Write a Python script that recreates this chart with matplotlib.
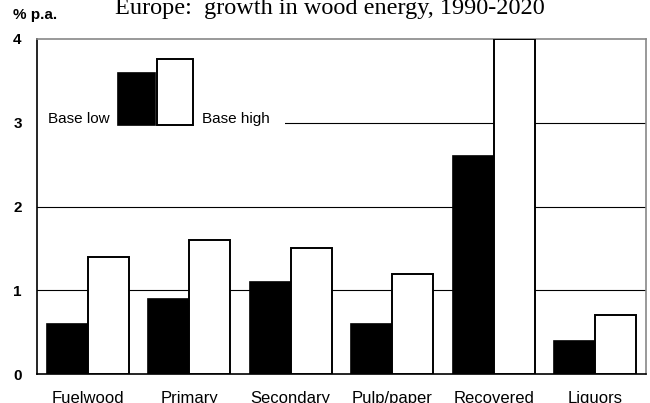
import numpy as np
import matplotlib.pyplot as plt
from matplotlib.patches import Rectangle

categories = ['Fuelwood', 'Primary', 'Secondary', 'Pulp/paper', 'Recovered', 'Liquors']
base_low = [0.6, 0.9, 1.1, 0.6, 2.6, 0.4]
base_high = [1.4, 1.6, 1.5, 1.2, 4.0, 0.7]
yticks = [0, 1, 2, 3, 4]

plt.rcParams['font.family'] = 'Liberation Sans'

fig = plt.figure(figsize=(6.5, 4.03), dpi=100)
ax = fig.add_axes([37 / 650, 1 - 374 / 403, 609 / 650, 335 / 403])

x = np.arange(len(categories))
w = 0.404

# gridlines first, everything else on top
for yv in yticks[1:4]:
    ax.axhline(yv, color='black', lw=0.8, zorder=0)

ax.bar(x - w / 2, base_low, w, color='black', edgecolor='black', lw=1.2, zorder=3)
ax.bar(x + w / 2, base_high, w, color='white', edgecolor='black', lw=1.4, zorder=3)

# key in the upper left, on a white patch that hides the gridline
ax.add_patch(Rectangle((-0.5, 2.85), 2.44, 0.3, facecolor='white', edgecolor='none', zorder=1))
ax.add_patch(Rectangle((0.298, 2.97), 0.365, 0.63, facecolor='black', edgecolor='black', lw=1.2, zorder=2))
ax.add_patch(Rectangle((0.683, 2.97), 0.355, 0.79, facecolor='white', edgecolor='black', lw=1.4, zorder=2))
ax.text(0.22, 3.04, 'Base low', ha='right', va='center', fontsize=11)
ax.text(1.13, 3.04, 'Base high', ha='left', va='center', fontsize=11)

ax.set_xlim(-0.5, len(categories) - 0.5)
ax.set_ylim(0, 4)
ax.set_xticks(x)
ax.set_xticklabels(categories, fontsize=12)
ax.set_yticks(yticks)
ax.set_yticklabels([str(v) for v in yticks], fontsize=11, fontweight='bold')
ax.tick_params(axis='y', length=0, pad=11)
ax.tick_params(axis='x', length=0, pad=12)

ax.spines['left'].set_color('black')
ax.spines['bottom'].set_color('black')
ax.spines['top'].set_color('#888888')
ax.spines['right'].set_color('#888888')
for s in ax.spines.values():
    s.set_linewidth(1.2)

fig.text(330 / 650, 1 - 14 / 403, 'Europe:  growth in wood energy, 1990-2020',
         ha='center', va='baseline', fontsize=17.5, family='Liberation Serif')
fig.text(13 / 650, 1 - 19 / 403, '% p.a.', ha='left', va='baseline',
         fontsize=11, fontweight='bold')

fig.savefig('out.png', dpi=100)
